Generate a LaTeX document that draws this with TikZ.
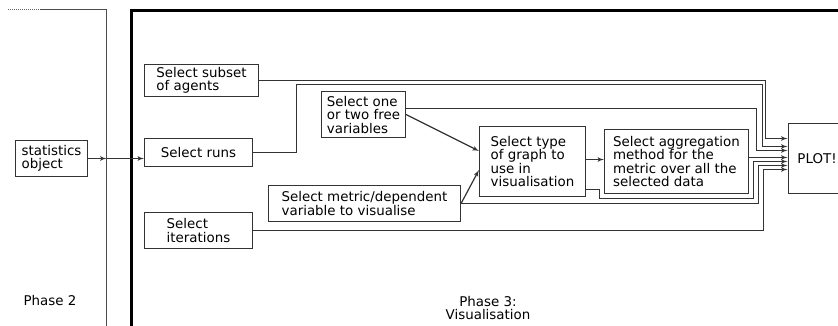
\documentclass[tikz,border=0pt]{standalone}
\usepackage{fontspec}
\setmainfont{DejaVu Sans}
\usetikzlibrary{arrows}
\tikzstyle{block} = [draw=black!80, rectangle, line width=1.1pt, align=left, inner sep=2pt]
\tikzstyle{link} = [draw=black!80, line width=1.2pt]
\tikzstyle{frame} = [line width=2.7pt]

\begin{document}
\begin{tikzpicture}[x=1pt, y=-1pt, >=latex', font=\fontsize{13.4}{13.5}\selectfont]
    \clip (0,0) rectangle (838,325);
    \draw [black!60, line width=1pt, dash pattern=on 1pt off 1pt] (8,9.5) -- (40,9.5);
    \draw [black!70, line width=1.1pt] (40,9.5) -- (106.5,9.5) -- (106.5,340);
    \draw [frame] (131.3,340) -- (131.3,10.7) -- (850,10.7);
    \node (phase2) at (50,300) {Phase 2};
    \node [align=center] (phase3) at (488,308) {Phase 3:\\Visualisation};

    \node [block, minimum width=72pt, minimum height=36pt] (stats) at (51.5,158.5) {statistics\\object};
    \node [block, minimum width=114pt, minimum height=32pt] (subset) at (201.5,80.5) {Select subset\\of agents};
    \node [block, minimum width=108pt, minimum height=28pt] (runs) at (198.5,152.5) {Select runs};
    \node [block, minimum width=108pt, minimum height=36pt] (iters) at (198.5,230.5) {Select\\iterations};
    \node [block, minimum width=84pt, minimum height=46pt] (free) at (363.5,114.5) {Select one\\or two free\\variables};
    \node [block, minimum width=192pt, minimum height=36pt] (metric) at (364.5,203.5) {Select metric/dependent\\variable to visualise};
    \node [block, minimum width=106pt, minimum height=70pt] (graph) at (532.5,161.5) {Select type\\of graph to\\use in\\visualisation};
    \node [block, minimum width=144pt, minimum height=64pt] (aggr) at (676.5,161.5) {Select aggregation\\method for the\\metric over all the\\selected data};
    \node [block, minimum width=58pt, minimum height=70pt, anchor=west] (plot) at (787.5,158.5) {PLOT!};
    \coordinate (gate) at (106.5,158.5);

    \draw [->, link] (stats.east) -- (gate);
    \draw [->, link] (gate) -- (runs.west |- gate);
    \draw [->, link] (subset.east) -| (765.5,138.5) -- (plot.west |- 0,138.5);
    \draw [->, link] (runs.east) -- (296.5,152.5) |- (762.5,84.5) |- (plot.west |- 0,146.5);
    \draw [->, link] (free.east |- 0,108.5) -| (756.5,150.5) -- (plot.west |- 0,150.5);
    \draw [->, link] (free.east) -- (graph.west |- 0,151);
    \draw [->, link] (metric.east) -- (graph.west |- 0,170);
    \draw [->, link] (graph.east |- 0,159.5) -- (aggr.west |- 0,159.5);
    \draw [->, link] (aggr.east |- 0,157.5) -- (plot.west |- 0,157.5);
    \draw [->, link] (graph.east |- 0,189.5) -- (599.5,189.5) |- (753.5,198.5) |- (plot.west |- 0,161.5);
    \draw [->, link] (metric.east) -| (758.5,165.5) -- (plot.west |- 0,165.5);
    \draw [->, link] (iters.east) -| (763.5,169.5) -- (plot.west |- 0,169.5);
\end{tikzpicture}
\end{document}
